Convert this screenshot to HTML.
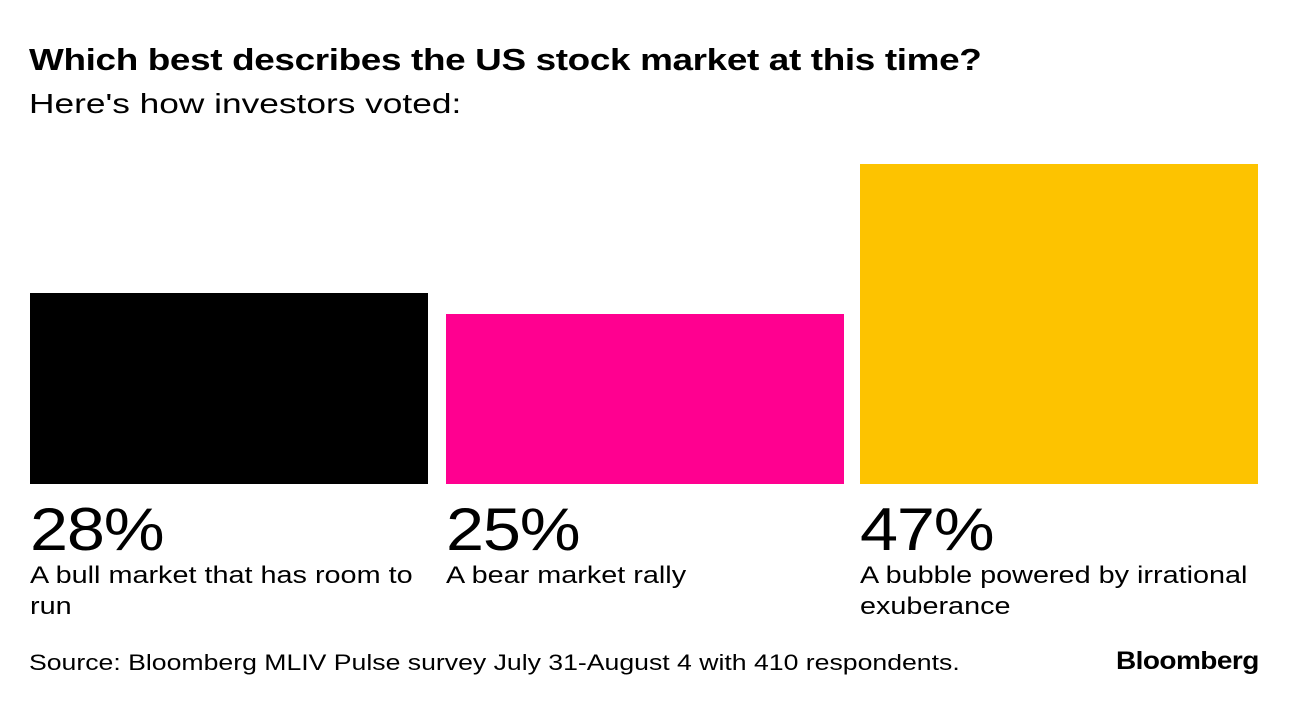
<!DOCTYPE html>
<html><head><meta charset="utf-8"><style>
body{margin:0;width:1296px;height:706px;background:#fff;font-family:"Liberation Sans",Arial,sans-serif;position:relative;overflow:hidden;color:#000}
.abs{position:absolute;white-space:nowrap;transform-origin:0 0}
</style></head><body>
<div class="abs" style="left:29px;top:42px;font-size:31px;font-weight:bold;letter-spacing:-0.3px;transform:scaleX(1.19)">Which best describes the US stock market at this time?</div>
<div class="abs" style="left:29px;top:88px;font-size:28px;transform:scaleX(1.26)">Here's how investors voted:</div>
<div id="chart"></div>
<div class="abs" style="left:29px;top:650px;font-size:22px;transform:scaleX(1.21)">Source: Bloomberg MLIV Pulse survey July 31-August 4 with 410 respondents.</div>
<div class="abs" style="left:1116px;top:647px;font-size:25px;font-weight:bold;letter-spacing:-0.5px;transform:scaleX(1.12)">Bloomberg</div>
<script>
const categories=["A bull market that has room to\nrun","A bear market rally","A bubble powered by irrational\nexuberance"];
const values=[28,25,47];
const valueLabels=["28%","25%","47%"];
const colors=["#000000","#ff0090","#fdc300"];
const baseY=484, scale=320/47, left=30, barW=398, gap=17;
const c=document.getElementById('chart');
function xPos(i){return left+i*(barW+gap)+(i===1?1:0);}
function yH(v){return v*scale;}
values.forEach((v,i)=>{
  const b=document.createElement('div');
  
  
  b.className='abs';
  const h=yH(v);
  b.style.cssText=`left:${xPos(i)}px;top:${baseY-h}px;width:${barW}px;height:${h}px;background:${colors[i]}`;
  c.appendChild(b);
  const p=document.createElement('div');
  
  
  p.className='abs';
  p.style.cssText=`left:${xPos(i)}px;top:495px;font-size:60px;letter-spacing:-1px;transform:scaleX(1.14)`;
  p.textContent=valueLabels[i];
  c.appendChild(p);
  const l=document.createElement('div');
  
  
  l.className='abs';
  l.style.cssText=`left:${xPos(i)}px;top:560px;font-size:24px;line-height:31px;white-space:pre;transform:scaleX(1.20)`;
  l.textContent=categories[i];
  c.appendChild(l);
});
</script>
</body></html>
